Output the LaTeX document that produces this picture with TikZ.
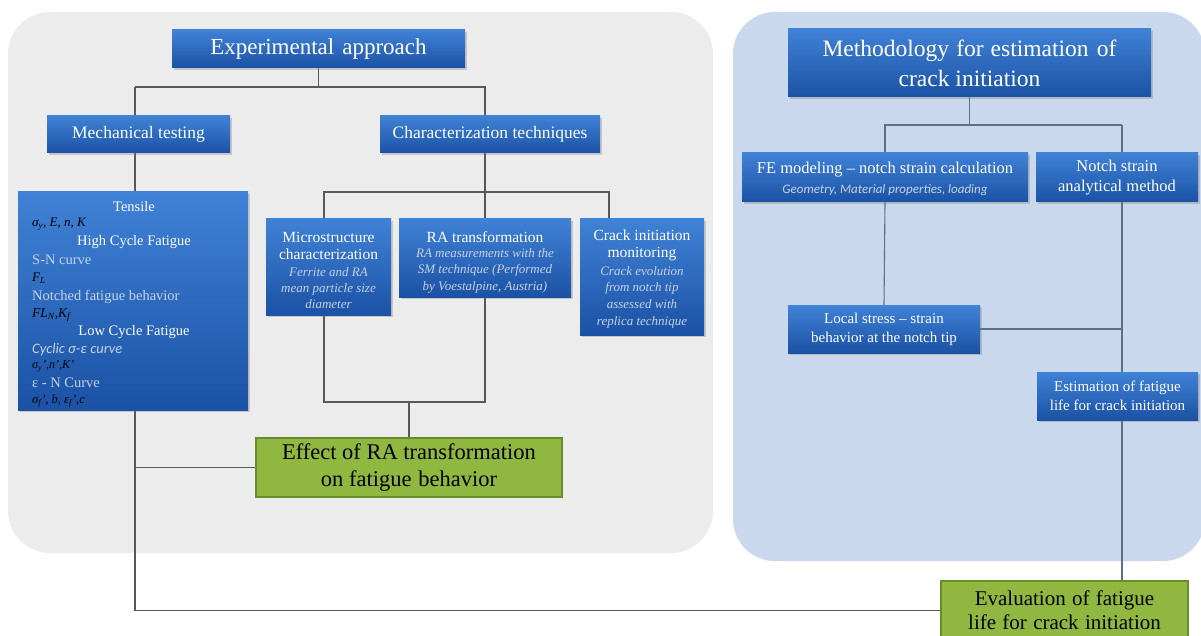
\documentclass[tikz,border=0pt]{standalone}
\usepackage{fontspec}
\setmainfont{Liberation Serif}
\newfontfamily\calib{Carlito}
\usetikzlibrary{shadows}
\definecolor{btop}{RGB}{64,130,214}
\definecolor{bbot}{RGB}{27,82,165}
\definecolor{panelL}{RGB}{236,236,236}
\definecolor{panelR}{RGB}{201,216,236}
\definecolor{lightc}{RGB}{198,209,228}
\definecolor{gfill}{RGB}{144,183,64}
\definecolor{gdraw}{RGB}{104,142,44}
\definecolor{lineL}{RGB}{88,88,88}
\definecolor{lineR}{RGB}{92,112,138}
\pgfdeclarelayer{back}
\pgfdeclarelayer{wires}
\pgfsetlayers{back,wires,main}
\begin{document}
\begin{tikzpicture}[x=1pt,y=-1pt,
  bluebox/.style={rectangle, inner sep=0pt, top color=btop, bottom color=bbot,
    drop shadow={shadow xshift=1.5pt, shadow yshift=-2pt, opacity=0.35}},
  greenbox/.style={rectangle, inner sep=0pt, fill=gfill, draw=gdraw, line width=1.8pt, align=center},
  wt/.style={text=white, inner sep=0pt, align=center},
  lt/.style={text=lightc, inner sep=0pt, align=center},
  bt/.style={text=black, inner sep=0pt},
  connL/.style={draw=lineL, line width=1.1pt},
  connR/.style={draw=lineR, line width=1.1pt}]
\useasboundingbox (0,0) rectangle (1201,636);
% panels
\begin{pgfonlayer}{back}
\fill[panelL, rounded corners=42pt] (8,12) rectangle (713,553);
\fill[panelR, rounded corners=42pt] (733,12) rectangle (1205,561);
\end{pgfonlayer}

% junction coordinates
\coordinate (j0) at (135,87);
\coordinate (j1) at (318.5,87);
\coordinate (j2) at (485,192);
\coordinate (j3) at (409,402);
\coordinate (j4) at (969.5,125);
\coordinate (rx) at (1122,125);

% boxes
\path (318.5,49) node[bluebox, minimum width=293pt, minimum height=38pt, wt, font=\fontsize{23}{26}\selectfont] (exp) {Experimental\hspace{0.35em}approach};
\path (138.5,134.5) node[bluebox, minimum width=183pt, minimum height=37pt, wt, font=\fontsize{17.5}{20}\selectfont] (mech) {Mechanical testing};
\path (490,134.5) node[bluebox, minimum width=220pt, minimum height=37pt, wt, font=\fontsize{17.5}{20}\selectfont] (char) {Characterization techniques};
\path (133,301) node[bluebox, minimum width=230pt, minimum height=218pt] (tens) {};
\path (328.5,267) node[bluebox, minimum width=125pt, minimum height=96pt] (micro) {};
\path (485,258) node[bluebox, minimum width=172pt, minimum height=78pt] (ra) {};
\path (642,277) node[bluebox, minimum width=124pt, minimum height=116pt] (crack) {};
\path (409,467.5) node[greenbox, minimum width=306pt, minimum height=59pt, font=\fontsize{22.5}{27}\selectfont] (eff) {Effect of RA transformation\\on fatigue\hspace{0.3em}behavior};
\path (969.5,63) node[bluebox, minimum width=363pt, minimum height=68pt, wt, font=\fontsize{23.5}{30}\selectfont] (meth) {Methodology\hspace{0.3em}for\hspace{0.3em}estimation\hspace{0.35em}of\\crack initiation};
\path (885,177.5) node[bluebox, minimum width=286pt, minimum height=49pt] (fe) {};
\path (1117,177.5) node[bluebox, minimum width=162pt, minimum height=49pt, wt, font=\fontsize{16.5}{20}\selectfont] (notch) {Notch strain\\analytical method};
\path (884,329) node[bluebox, minimum width=192pt, minimum height=48pt, wt, font=\fontsize{15}{19}\selectfont] (local) {Local stress -- strain\\behavior at the notch tip};
\path (1117.5,396) node[bluebox, minimum width=161pt, minimum height=48pt, wt, font=\fontsize{15}{19}\selectfont] (est) {Estimation of fatigue\\life for crack initiation};
\path (1064.5,610.5) node[greenbox, minimum width=247pt, minimum height=59pt, font=\fontsize{21}{24}\selectfont] (eval) {Evaluation\hspace{0.3em}of\hspace{0.3em}fatigue\\life\hspace{0.3em}for\hspace{0.3em}crack\hspace{0.3em}initiation};

% connectors, behind the boxes
\begin{pgfonlayer}{wires}
\draw[connL] (exp.south) -- (j1);
\draw[connL] (j0) -- (j1) -| (j2);
\draw[connL] (j0) |- (eval.west);
\draw[connL] (j0 |- eff.west) -- (eff.west);
\draw[connL] (j2) -| ([xshift=-4.5pt]micro.north);
\draw[connL] (j2) -- (ra.north);
\draw[connL] (j2) -| ([xshift=-33pt]crack.north);
\draw[connL] ([xshift=-4.5pt]micro.south) |- (ra.south |- j3) -- (ra.south);
\draw[connL] (j3) -- (eff.north);
\draw[connR] (meth.south) -- (j4);
\draw[connR] (fe.north) |- (rx);
\draw[connR] (rx) -- (rx |- eval.north);
\draw[connR] (fe.south) -- (local.north);
\draw[connR] (local.east) -- (local.east -| rx);
\end{pgfonlayer}

% tensile box text
\node[wt, font=\fontsize{14.5}{17}\selectfont] (t1) at (134,207) {Tensile};
\node[bt, anchor=west, font=\itshape\fontsize{13}{14}\selectfont] (t2) at (32,224) {σ\textsubscript{y}, E, n, K};
\node[wt, font=\fontsize{14.5}{17}\selectfont] (t3) at (134,242) {High Cycle Fatigue};
\node[lt, anchor=west, font=\fontsize{14.5}{17}\selectfont] (t4) at (32,260) {S-N curve};
\node[bt, anchor=west, font=\itshape\fontsize{13}{14}\selectfont] (t5) at (32,278) {F\textsubscript{L}};
\node[lt, anchor=west, font=\fontsize{14.5}{17}\selectfont] (t6) at (32,297) {Notched fatigue behavior};
\node[bt, anchor=west, font=\itshape\fontsize{13.5}{14}\selectfont] (t7) at (32,315) {FL\textsubscript{N},K\textsubscript{f}};
\node[wt, font=\fontsize{14.5}{17}\selectfont] (t8) at (134,332) {Low Cycle Fatigue};
\node[lt, anchor=west, font=\calib\itshape\fontsize{14.5}{17}\selectfont] (t9) at (32,350) {Cyclic σ-ε curve};
\node[bt, anchor=west, font=\itshape\fontsize{12}{12}\selectfont] (t10) at (32,366) {σ\textsubscript{y}',n',K'};
\node[lt, anchor=west, font=\fontsize{14.5}{17}\selectfont] (t11) at (32,383) {ε - N Curve};
\node[bt, anchor=west, font=\itshape\fontsize{12.5}{14}\selectfont] (t12) at (32,401) {σ\textsubscript{f}', b, ε\textsubscript{f}',c};

% micro / RA / crack text
\node[wt, font=\fontsize{15.5}{17}\selectfont] (m1) at (328.5,245.5) {Microstructure\\characterization};
\node[lt, font=\itshape\fontsize{13}{16}\selectfont] (m2) at (328.5,288) {Ferrite and RA\\mean particle size\\diameter};
\node[wt, font=\fontsize{15.5}{17}\selectfont] (r1) at (485,237) {RA transformation};
\node[lt, font=\itshape\fontsize{13}{16.5}\selectfont] (r2) at (485,270.5) {RA measurements with the\\SM technique (Performed\\by Voestalpine, Austria)};
\node[wt, font=\fontsize{15.5}{17}\selectfont] (c1) at (642,245.5) {Crack initiation\\monitoring};
\node[lt, font=\itshape\fontsize{13}{16.7}\selectfont] (c2) at (642,297) {Crack evolution\\from notch tip\\assessed with\\replica technique};

% FE text
\node[wt, font=\fontsize{16.5}{19}\selectfont] (f1) at (885,170) {FE modeling -- notch strain calculation};
\node[lt, font=\calib\itshape\fontsize{13}{15}\selectfont] (f2) at (885,190) {Geometry, Material properties, loading};
\end{tikzpicture}
\end{document}
